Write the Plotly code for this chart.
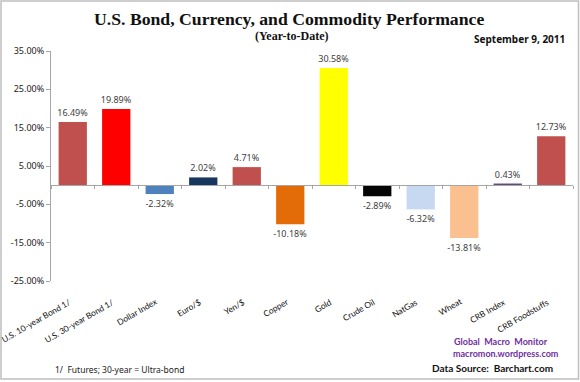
import plotly.graph_objects as go

categories = ["U.S. 10-year Bond 1/", "U.S. 30-year Bond 1/", "Dollar Index", "Euro/$",
              "Yen/$", "Copper", "Gold", "Crude Oil", "NatGas", "Wheat", "CRB Index",
              "CRB Foodstuffs"]
values = [16.49, 19.89, -2.32, 2.02, 4.71, -10.18, 30.58, -2.89, -6.32, -13.81, 0.43, 12.73]
colors = ["#C0504D", "#FF0000", "#4F81BD", "#17375E", "#C0504D", "#E36C09", "#FFFF00",
          "#050505", "#C6D9F1", "#FAC090", "#604A7B", "#C0504D"]
y_ticks = [35, 25, 15, 5, -5, -15, -25]

L, R, T, B = 51, 7, 51, 101
W, H = 580, 382
pw, ph = W - L - R, H - T - B

def px(x):
    return (x - L) / pw

def py(y):
    return (H - B - y) / ph

sans = "Noto Sans"

fig = go.Figure()
fig.add_trace(go.Bar(
    x=categories, y=values, marker_color=colors, marker_line_width=0,
    text=[f"{v:.2f}%" for v in values], textposition="outside", constraintext="none",
    textfont=dict(family=sans, size=9, color="#404040"), cliponaxis=False,
    showlegend=False, hoverinfo="skip",
))

fig.update_layout(
    width=W, height=H, margin=dict(l=L, r=R, t=T, b=B, autoexpand=False),
    paper_bgcolor="white", plot_bgcolor="white", bargap=0.35, hovermode=False,
    xaxis=dict(type="category", range=[-0.5, len(categories) - 0.5], autorange=False,
               anchor="free", position=25/60, showline=True,
               linecolor="#A6A6A6", linewidth=1, ticks="outside", tickson="boundaries",
               ticklen=3, tickcolor="#A6A6A6", showticklabels=False, showgrid=False,
               zeroline=False, automargin=False),
    yaxis=dict(range=[-25, 35], autorange=False, tickvals=y_ticks,
               ticktext=[f"{v:.2f}%" for v in y_ticks],
               showline=True, linecolor="#A6A6A6", linewidth=1, ticks="outside", ticklen=4,
               tickcolor="#A6A6A6", showgrid=False, zeroline=False, automargin=False,
               tickfont=dict(family=sans, size=9, color="#1a1a1a")),
)

# rotated category labels below the plot area
for c in categories:
    fig.add_annotation(x=c, xref="x", y=py(294), yref="paper", text=c, textangle=-30,
                       xanchor="right", yanchor="top", xshift=2, showarrow=False,
                       font=dict(family="Lato", size=8.4, color="#111111"))

ann = [
    dict(text="<b>U.S. Bond, Currency, and Commodity Performance</b>", x=px(289), y=py(19),
         font=dict(family="Liberation Serif", size=17.7, color="#111111")),
    dict(text="<b>(Year-to-Date)</b>", x=px(292), y=py(36),
         font=dict(family="Liberation Serif", size=12, color="#111111")),
    dict(text="<b>September 9, 2011</b>", x=px(519), y=py(39),
         font=dict(family=sans, size=10, color="#111111")),
    dict(text="1/  Futures; 30-year = Ultra-bond", x=px(53), y=py(369), xanchor="left",
         font=dict(family=sans, size=8.5, color="#1a1a1a")),
    dict(text="<b>Global  Macro  Monitor</b>", x=px(501), y=py(341),
         font=dict(family="Lato", size=9, color="#7030A0")),
    dict(text="<b>macromon.wordpress.com</b>", x=px(506), y=py(353),
         font=dict(family="Lato", size=9, color="#7030A0")),
    dict(text="<b>Data Source:  Barchart.com</b>", x=px(492), y=py(368),
         font=dict(family="Lato", size=10, color="#111111")),
]
for a in ann:
    a.setdefault("xanchor", "center")
    fig.add_annotation(xref="paper", yref="paper", showarrow=False, yanchor="middle", **a)

fig.add_shape(type="rect", xref="paper", yref="paper", x0=px(1), x1=px(578.5),
              y0=py(379), y1=py(1), line=dict(color="#BFBFBF", width=1.5), layer="below")

fig.write_html("out.html", config={"displayModeBar": False},
               post_script="document.body.style.margin='0';")
